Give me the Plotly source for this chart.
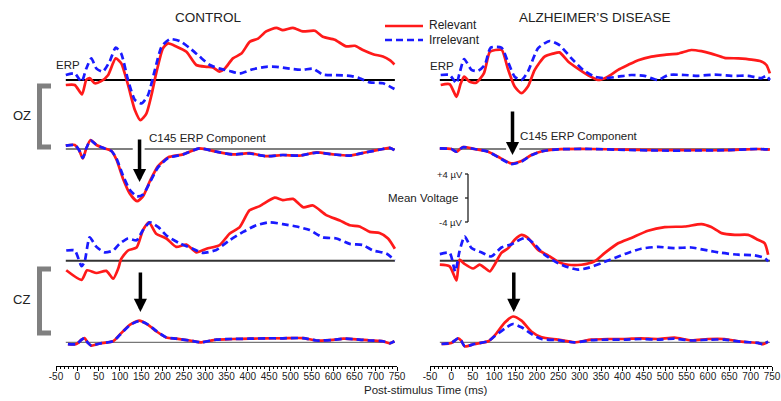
import plotly.graph_objects as go

# ---------------- data (µV, relative to each trace's own baseline) ----------------
x_tick_vals = [-50, 0, 50, 100, 150, 200, 250, 300, 350, 400, 450, 500, 550, 600, 650, 700, 750]
x_tick_labels = ["-50", "0", "50", "100", "150", "200", "250", "300", "350", "400", "450",
                 "500", "550", "600", "650", "700", "750"]

# CONTROL, OZ ERP
ctrl_oz_erp_rel_t = [-27, -6, 11, 21, 29, 41, 56, 72, 90, 103, 119, 135, 148, 162, 174, 185, 201, 213, 232, 256,
                     279, 303, 318, 334, 346, 365, 385, 405, 424, 443, 467, 482, 506, 529, 557, 576, 604, 631, 651, 670,
                     694, 717, 733, 744]
ctrl_oz_erp_rel_v = [-0.83, -0.83, -2.4, 0, 0.3, -0.55, -0.2, 0.8, 3.6, 2.8, -0.83, -5, -6.7, -5.6, -2.5, 1.1, 5.3, 6.1,
                     5.6, 4.7, 2.5, 2.2, 2.1, 1.4, 1.9, 3.6, 4.4, 6.4, 6.9, 8.1, 8.7, 8.3, 8.7, 8.1, 8.2, 7.2, 6.7, 5.6,
                     5.7, 5.0, 4.3, 3.9, 3.3, 2.6]
ctrl_oz_erp_irr_t = [-27, -6, 10, 21, 33, 45, 60, 76, 90, 103, 119, 135, 151, 166, 182, 198, 217, 240, 264, 287,
                     311, 334, 357, 381, 412, 443, 467, 498, 529, 553, 576, 607, 639, 662, 686, 717, 744]
ctrl_oz_erp_irr_v = [0.83, 1.1, -0.3, 1.9, 3.6, 1.9, 1.4, 3.1, 5.4, 4.4, 0, -3.3, -3.9, -2.5, 1.7, 5.6, 6.8, 6.5, 5.3,
                     3.9, 2.5, 1.9, 1.5, 1.1, 1.8, 2.2, 2.2, 1.9, 1.7, 1.9, 0.9, 0.8, 0.7, 0.3, -0.4, -0.55, -1.5]

# CONTROL, OZ C145 component
ctrl_oz_c_t = [-27, -6, 4, 13, 21, 31, 45, 64, 80, 92, 107, 123, 140, 154, 170, 189, 213, 248, 287, 326,
               365, 404, 443, 482, 522, 561, 600, 639, 678, 717, 733, 744]
ctrl_oz_c_rel_v = [0.55, 0.67, -0.17, -1.55, 0.1, 1.5, 0.67, 0.1, -0.33, -1.8, -4.9, -7.4, -8.7, -7.9, -5.4, -2.9,
                   -1.4, -0.9, 0.1, -0.45, -0.9, -0.7, -1.2, -1.0, -1.1, -0.55, -0.9, -1.1, -0.55, 0, 0.2, -0.2]
ctrl_oz_c_irr_v = [0.55, 0.67, -0.17, -1.5, 0.1, 1.45, 0.67, 0.1, -0.33, -1.6, -4.4, -6.8, -7.9, -7.6, -5.6, -3.1,
                   -1.5, -0.9, 0.1, -0.45, -0.9, -0.75, -1.2, -1.0, -1.1, -0.6, -0.9, -1.1, -0.55, 0, 0.2, -0.2]

# CONTROL, CZ ERP
ctrl_cz_erp_rel_t = [-26, 10, 23, 45, 68, 84, 96, 103, 119, 139, 154, 168, 185, 209, 232, 256, 279, 303, 334, 357,
                     381, 404, 428, 463, 482, 506, 530, 553, 584, 616, 639, 662, 686, 709, 729, 745]
ctrl_cz_erp_rel_v = [-1.6, -3.2, -1.6, -2.05, -1.7, -3.0, -1.3, 0.3, 1.7, 2.2, 5.1, 6.4, 4.5, 3.7, 2.3, 2.7, 1.4, 2.0,
                     2.6, 4.5, 5.6, 8.4, 9.1, 10.5, 10.1, 10.3, 8.9, 9.2, 7.6, 6.7, 5.9, 5.7, 4.8, 4.6, 3.7, 2.0]
ctrl_cz_erp_irr_t = [-26, -6, 10, 17, 29, 45, 64, 84, 99, 119, 139, 154, 170, 190, 209, 240, 271, 295, 326, 357,
                     389, 420, 451, 482, 514, 545, 576, 608, 639, 670, 694, 725, 745]
ctrl_cz_erp_irr_v = [1.7, 1.7, -0.9, -0.2, 3.9, 2.3, 1.4, 1.7, 2.8, 3.7, 3.4, 5.1, 6.4, 5.6, 4.2, 2.9, 2.0, 1.3, 1.8,
                     3.4, 4.8, 5.9, 6.4, 6.1, 5.7, 5.1, 3.9, 3.7, 2.8, 2.6, 1.7, 1.2, 0.05]

# CONTROL, CZ C145 component
ctrl_cz_c_t = [-22, -2, 10, 17, 25, 33, 53, 84, 100, 123, 145, 166, 186, 209, 232, 264, 291, 326, 365, 404,
               443, 482, 529, 561, 600, 624, 655, 686, 717, 733, 744]
ctrl_cz_c_rel_v = [-0.3, -0.3, 0.45, 0.7, -0.1, -0.55, -0.2, 0.17, 1.3, 2.9, 3.6, 2.9, 1.8, 0.8, 0.6, 0.3, 0, 0.45,
                   0.55, 0.6, 0.67, 0.67, 0.7, 0.3, 0.4, 0.6, 0.5, 0.3, 0.17, -0.17, 0.17]
ctrl_cz_c_irr_v = [-0.3, -0.3, 0.45, 0.7, -0.1, -0.55, -0.2, 0.17, 1.25, 2.85, 3.55, 2.95, 1.85, 0.8, 0.6, 0.3, 0,
                   0.45, 0.55, 0.6, 0.67, 0.67, 0.7, 0.3, 0.4, 0.6, 0.5, 0.3, 0.17, -0.17, 0.17]

# ALZHEIMER'S, OZ ERP
ad_oz_erp_rel_t = [-25, -4, 12, 22, 30, 43, 58, 76, 90, 103, 118, 132, 148, 164, 179, 195, 218, 238, 253, 273,
                   296, 320, 343, 366, 390, 413, 437, 468, 499, 530, 561, 585, 608, 639, 671, 702, 725, 737, 745]
ad_oz_erp_rel_v = [-0.83, -0.7, -2.8, -0.55, 0.55, -0.3, -0.45, 1.1, 4.7, 5.0, 5.0, 1.9, -1.1, -2.2, -1.1, 1.7, 3.9,
                   4.4, 4.6, 3.1, 1.9, 0.8, 0, 0.55, 1.7, 2.5, 3.3, 3.9, 4.2, 4.4, 5.0, 4.8, 4.4, 3.7, 3.6, 3.4, 3.1,
                   2.5, 1.1]
ad_oz_erp_irr_t = [-25, -4, 12, 19, 30, 47, 62, 78, 92, 117, 132, 148, 164, 179, 203, 230, 253, 281, 308, 335,
                   359, 390, 421, 452, 483, 507, 546, 577, 616, 655, 694, 725, 737, 745]
ad_oz_erp_irr_v = [0.83, 0.83, -0.55, 1.1, 3.5, 1.7, 1.5, 2.5, 5.4, 5.4, 3.1, 0.55, 0, 1.4, 5.3, 6.5, 5.8, 3.6, 1.7,
                   0.55, 0.3, 0.55, 0.83, 0.7, 0, 0.83, 0.83, 0.7, 0.9, 0.7, 0.7, 0.3, 0.7, 0]

# ALZHEIMER'S, OZ C145 component
ad_oz_c_t = [-27, 0, 12, 27, 54, 86, 109, 140, 164, 187, 214, 249, 327, 405, 483, 561, 639, 717, 745]
ad_oz_c_rel_v = [0.1, 0, -0.45, 0.33, 0, -0.45, -1.3, -2.4, -2.0, -1.0, -0.33, -0.05, 0, -0.1, -0.2, -0.2, -0.2, 0,
                 -0.1]
ad_oz_c_irr_v = [0.1, 0, -0.45, 0.3, 0, -0.45, -1.35, -2.5, -2.1, -1.05, -0.35, -0.05, 0, -0.15, -0.25, -0.25, -0.2,
                 0, -0.1]

# ALZHEIMER'S, CZ ERP
ad_cz_erp_rel_t = [-27, -4, 12, 19, 31, 51, 66, 78, 90, 101, 117, 133, 148, 164, 179, 203, 226, 250, 273, 304,
                   335, 359, 390, 421, 460, 499, 546, 585, 608, 632, 663, 694, 717, 733, 741]
ad_cz_erp_rel_v = [-0.67, -0.95, -3.3, 0.17, -0.55, -1.3, -0.67, -1.2, -1.8, -0.67, 1.3, 2.1, 3.5, 4.3, 3.8, 1.8, 0.9,
                   -0.2, -0.67, -0.67, -0.1, 1.3, 2.9, 3.8, 5.0, 5.6, 5.7, 6.1, 5.6, 4.6, 4.3, 4.3, 3.5, 2.9, 1.0]
ad_cz_erp_irr_t = [-27, -4, 9, 19, 31, 47, 70, 93, 117, 140, 160, 175, 195, 218, 249, 273, 296, 320, 351, 382,
                   413, 444, 483, 522, 561, 600, 632, 671, 709, 733, 741]
ad_cz_erp_irr_v = [1.1, 1.3, -1.8, 1.55, 4.05, 2.1, 1.4, 0.7, 2.2, 2.7, 3.5, 3.8, 2.7, 1.0, -0.4, -1.1, -1.5, -1.2,
                   -0.4, 0.45, 1.3, 2.0, 2.3, 2.1, 2.2, 1.7, 1.3, 1.0, 0.9, 0.45, -0.1]

# ALZHEIMER'S, CZ C145 component
ad_cz_c_t = [-23, 0, 16, 23, 31, 54, 86, 101, 125, 144, 164, 187, 211, 249, 288, 327, 366, 405, 444, 483,
             522, 561, 600, 639, 678, 717, 729, 741]
ad_cz_c_rel_v = [-0.28, -0.1, 0.67, 0.28, -0.67, -0.28, 0.17, 1.1, 3.3, 4.3, 3.6, 1.8, 0.83, 0.45, 0, 0.45, 0.55,
                 0.55, 0.67, 0.55, 0.78, 0.33, 0.55, 0.55, 0.1, -0.1, -0.33, 0.1]
ad_cz_c_irr_v = [-0.28, -0.1, 0.67, 0.28, -0.67, -0.28, 0.17, 1.0, 2.3, 3.05, 2.5, 1.4, 0.55, 0.35, 0, 0.35, 0.45,
                 0.45, 0.55, 0.45, 0.6, 0.3, 0.45, 0.45, 0.1, -0.1, -0.33, 0.1]

# ---------------- layout constants ----------------
W, H = 781, 401
PLOT_BOTTOM_PX = 366          # x-axis line position (px from top)
PX_PER_UV = 6.0               # vertical scale (8 µV = 48 px scale bar)
Y_MAX = PLOT_BOTTOM_PX / PX_PER_UV


def ypx(p):
    """pixel row (from top) -> y data value"""
    return (PLOT_BOTTOM_PX - p) / PX_PER_UV


OFF_OZ_ERP = ypx(80)
OFF_OZ_C = ypx(149)
OFF_CZ_ERP = ypx(260.7)
OFF_CZ_C = ypx(342.3)

RED = "#ff1a1a"
BLUE = "#1a1aff"
FONT = "Arial, Liberation Sans, sans-serif"
TXT = "#222222"

fig = go.Figure()


def add_pair(xa, t_rel, v_rel, t_irr, v_irr, off):
    fig.add_trace(go.Scatter(x=t_rel, y=[v + off for v in v_rel], xaxis=xa, yaxis="y", mode="lines",
                             line=dict(color=RED, width=2.7, shape="spline", smoothing=0.6),
                             hoverinfo="skip", showlegend=False))
    fig.add_trace(go.Scatter(x=t_irr, y=[v + off for v in v_irr], xaxis=xa, yaxis="y", mode="lines",
                             line=dict(color=BLUE, width=2.7, dash="7px,4px", shape="spline", smoothing=0.6),
                             hoverinfo="skip", showlegend=False))


# baselines (drawn below data)
shapes = []


def hline(xref, x0, x1, y, width, color):
    shapes.append(dict(type="line", xref=xref, yref="y", x0=x0, x1=x1, y0=y, y1=y,
                       line=dict(color=color, width=width), layer="below"))


hline("x", -27, 745, OFF_OZ_ERP, 2, "black")
hline("x", -27, 130, OFF_OZ_C, 1.2, "black")
hline("x", 158, 745, OFF_OZ_C, 1.2, "black")
hline("x", -27, 745, OFF_CZ_ERP, 2, "#333333")
hline("x", -27, 745, OFF_CZ_C, 1, "#555555")

hline("x2", -27, 745, OFF_OZ_ERP, 2, "black")
hline("x2", -27, 128, OFF_OZ_C, 1.2, "black")
hline("x2", 159, 745, OFF_OZ_C, 1.2, "black")
hline("x2", -27, 745, OFF_CZ_ERP, 2, "#333333")
hline("x2", -27, 745, OFF_CZ_C, 1, "#555555")

add_pair("x", ctrl_oz_erp_rel_t, ctrl_oz_erp_rel_v, ctrl_oz_erp_irr_t, ctrl_oz_erp_irr_v, OFF_OZ_ERP)
add_pair("x", ctrl_oz_c_t, ctrl_oz_c_rel_v, ctrl_oz_c_t, ctrl_oz_c_irr_v, OFF_OZ_C)
add_pair("x", ctrl_cz_erp_rel_t, ctrl_cz_erp_rel_v, ctrl_cz_erp_irr_t, ctrl_cz_erp_irr_v, OFF_CZ_ERP)
add_pair("x", ctrl_cz_c_t, ctrl_cz_c_rel_v, ctrl_cz_c_t, ctrl_cz_c_irr_v, OFF_CZ_C)

add_pair("x2", ad_oz_erp_rel_t, ad_oz_erp_rel_v, ad_oz_erp_irr_t, ad_oz_erp_irr_v, OFF_OZ_ERP)
add_pair("x2", ad_oz_c_t, ad_oz_c_rel_v, ad_oz_c_t, ad_oz_c_irr_v, OFF_OZ_C)
add_pair("x2", ad_cz_erp_rel_t, ad_cz_erp_rel_v, ad_cz_erp_irr_t, ad_cz_erp_irr_v, OFF_CZ_ERP)
add_pair("x2", ad_cz_c_t, ad_cz_c_rel_v, ad_cz_c_t, ad_cz_c_irr_v, OFF_CZ_C)

# brackets (OZ / CZ)
GRAY = "#808080"
for top, bot in [(86, 147), (269, 333)]:
    shapes.append(dict(type="path", xref="paper", yref="paper",
                       path=f"M {51/W} {1-top/H} L {39.5/W} {1-top/H} L {39.5/W} {1-bot/H} L {51/W} {1-bot/H}",
                       line=dict(color=GRAY, width=5)))

# scale bar
sb_x = 468
for a, b in [((sb_x, 174), (sb_x, 222)), ((sb_x - 3, 174), (sb_x, 174)), ((sb_x - 3, 222), (sb_x, 222)),
             ((sb_x - 3, 198), (sb_x, 198))]:
    shapes.append(dict(type="line", xref="paper", yref="paper", x0=a[0] / W, y0=1 - a[1] / H, x1=b[0] / W,
                       y1=1 - b[1] / H, line=dict(color="#222222", width=1.3)))

# legend samples
shapes.append(dict(type="line", xref="paper", yref="paper", x0=385 / W, x1=423 / W, y0=1 - 26 / H, y1=1 - 26 / H,
                   line=dict(color=RED, width=2.7)))
shapes.append(dict(type="line", xref="paper", yref="paper", x0=385 / W, x1=423 / W, y0=1 - 40 / H, y1=1 - 40 / H,
                   line=dict(color=BLUE, width=2.7, dash="7px,4px")))

annotations = []


def text(x, y, s, size, xanchor="center", color=TXT):
    annotations.append(dict(xref="paper", yref="paper", x=x / W, y=1 - y / H, text=s, showarrow=False,
                            xanchor=xanchor, yanchor="middle", font=dict(family=FONT, size=size, color=color)))


text(208, 17, "CONTROL", 13.5)
text(595, 17, "ALZHEIMER’S DISEASE", 13.5)
text(427, 25, "Relevant", 12, "left")
text(427, 40, "Irrelevant", 12, "left")
text(54, 65, "ERP", 11.5, "left")
text(428, 66, "ERP", 11.5, "left")
text(147, 138, "C145 ERP Component", 11.5, "left")
text(518, 136, "C145 ERP Component", 11.5, "left")
text(11, 116, "OZ", 13, "left")
text(11, 299, "CZ", 13, "left")
text(465, 174, "+4 µV", 9.5, "right")
text(465, 222, "-4 µV", 9.5, "right")
text(460, 198, "Mean Voltage", 11.5, "right")
text(425, 390, "Post-stimulus Time (ms)", 11.5)

# arrows
for xa, t, tip_px, tail_px in [("x", 146, 182, 138), ("x2", 143, 155, 110), ("x", 148, 312, 271),
                               ("x2", 146, 312, 271)]:
    annotations.append(dict(xref=xa, yref="y", x=t, y=ypx(tip_px), ax=0, ay=-(tip_px - tail_px),
                            axref="pixel", ayref="pixel", text="", showarrow=True, arrowhead=2,
                            arrowsize=0.75, arrowwidth=3.5, arrowcolor="black", standoff=0))

axis_common = dict(range=[-50, 750], showline=True, linecolor="black", linewidth=1, ticks="outside", ticklen=4,
                   tickwidth=1, tickcolor="black", tickvals=x_tick_vals, ticktext=x_tick_labels,
                   tickfont=dict(family=FONT, size=10, color=TXT), showgrid=False, zeroline=False, anchor="y",
                   minor=dict(dtick=10, tick0=-50, ticks="outside", ticklen=2, tickcolor="black", showgrid=False),
                   fixedrange=True, automargin=False, ticklabelstandoff=-3)

fig.update_layout(
    width=W, height=H, margin=dict(l=0, r=0, t=0, b=0, pad=0, autoexpand=False),
    paper_bgcolor="white", plot_bgcolor="white", showlegend=False,
    xaxis=dict(domain=[56 / W, 397 / W], **axis_common),
    xaxis2=dict(domain=[430 / W, 772 / W], **axis_common),
    yaxis=dict(range=[0, Y_MAX], domain=[1 - PLOT_BOTTOM_PX / H, 1], visible=False, fixedrange=True,
               automargin=False),
    shapes=shapes, annotations=annotations,
)

fig.write_html("out.html", config={"displayModeBar": False},
               post_script="document.body.style.margin='0';document.body.style.overflow='hidden';")
